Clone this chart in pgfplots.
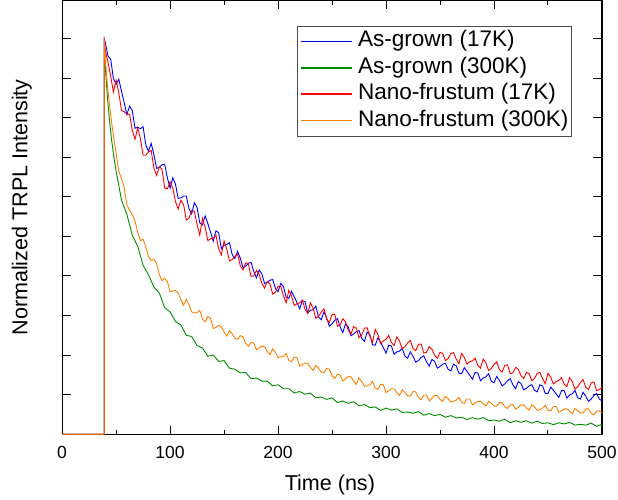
\documentclass[border=0pt]{standalone}
\usepackage{fontspec}
\setmainfont{Liberation Sans}
\usepackage{pgfplots}
\pgfplotsset{compat=1.18}
\definecolor{lineblue}{RGB}{0,0,255}
\definecolor{linegreen}{RGB}{0,140,0}
\definecolor{linered}{RGB}{255,0,0}
\definecolor{lineorange}{RGB}{255,128,0}
\begin{document}
\begin{tikzpicture}
\begin{axis}[
  scale only axis,
  width=539bp, height=433bp,
  xmin=0, xmax=500, ymin=0, ymax=1.096,
  axis line style={line width=1.1bp},
  tick align=inside,
  tick style={black, line width=1bp},
  major tick length=8.5bp, minor tick length=4.5bp,
  xtick={0,100,200,300,400,500},
  minor x tick num=1,
  ytick={0,0.1,0.2,0.3,0.4,0.5,0.6,0.7,0.8,0.9,1.0},
  yticklabels={},
  /pgf/number format/assume math mode=true,
  ticklabel style={font=\fontsize{17.5bp}{20bp}\selectfont},
  xticklabel style={anchor=base, yshift=-24bp},
  xlabel={Time (ns)},
  ylabel={Normalized TRPL Intensity},
  label style={font=\fontsize{21.5bp}{24bp}\selectfont},
  xlabel style={at={(rel axis cs:0.496,0)}, anchor=base, yshift=-56bp},
  ylabel style={at={(rel axis cs:-0.0556,0.523)}, anchor=south, inner sep=0pt},
  legend cell align=left,
  legend style={at={(rel axis cs:1,1)}, anchor=north east, xshift=-30bp, yshift=-25bp,
    draw=black!70, line width=0.8bp, inner xsep=3bp, inner ysep=5bp,
    font=\fontsize{22.5bp}{26bp}\selectfont, row sep=5.3bp, column sep=5bp,
    nodes={inner sep=0pt, text height=16bp, text depth=5bp}},
  every axis plot/.append style={line width=0.9bp},
]
\addlegendimage{legend image code/.code={\draw[lineblue, line width=1.6bp] (0bp,0bp) -- (51bp,0bp);}}
\addlegendentry{As-grown (17K)}
\addlegendimage{legend image code/.code={\draw[linegreen, line width=1.6bp] (0bp,0bp) -- (51bp,0bp);}}
\addlegendentry{As-grown (300K)}
\addlegendimage{legend image code/.code={\draw[linered, line width=1.6bp] (0bp,0bp) -- (51bp,0bp);}}
\addlegendentry{Nano-frustum (17K)}
\addlegendimage{legend image code/.code={\draw[lineorange, line width=1.6bp] (0bp,0bp) -- (51bp,0bp);}}
\addlegendentry{Nano-frustum (300K)}
\addplot[draw=lineblue, forget plot] coordinates {
(0,0) (39,0) (39,1.0) (40,0.99) (42.5,0.955) (45,0.948) (47.5,0.899) (50,0.884) (52.5,0.897) (55,0.867) (57.5,0.838) (60,0.808) (62.5,0.829) (65,0.818) (67.5,0.773) (70,0.776) (72.5,0.772) (75,0.777) (77.5,0.731) (80,0.715) (82.5,0.735) (85,0.707) (87.5,0.672) (90,0.674) (92.5,0.681) (95,0.682) (97.5,0.648) (100,0.622) (102.5,0.648) (105,0.632) (107.5,0.596) (110,0.597) (112.5,0.602) (115,0.602) (117.5,0.570) (120,0.557) (122.5,0.585) (125,0.573) (127.5,0.534) (130,0.529) (132.5,0.552) (135,0.532) (137.5,0.511) (140,0.488) (142.5,0.514) (145,0.509) (147.5,0.469) (150,0.478) (152.5,0.479)
(155,0.484) (157.5,0.454) (160,0.444) (162.5,0.462) (165,0.445) (167.5,0.421) (170,0.425) (172.5,0.432) (175,0.434) (177.5,0.411) (180,0.395) (182.5,0.415) (185,0.405) (187.5,0.381) (190,0.384) (192.5,0.389) (195,0.391) (197.5,0.369) (200,0.360) (202.5,0.381) (205,0.373) (207.5,0.346) (210,0.343) (212.5,0.361) (215,0.347) (217.5,0.333) (220,0.317) (222.5,0.337) (225,0.335) (227.5,0.306) (230,0.313) (232.5,0.315) (235,0.324) (237.5,0.296) (240,0.289) (242.5,0.309) (245,0.294) (247.5,0.273) (250,0.279) (252.5,0.288) (255,0.292) (257.5,0.271) (260,0.257) (262.5,0.279) (265,0.271) (267.5,0.249) (270,0.253) (272.5,0.259) (275,0.262) (277.5,0.242) (280,0.235) (282.5,0.258) (285,0.252) (287.5,0.226) (290,0.225) (292.5,0.244) (295,0.232) (297.5,0.219) (300,0.205)
(302.5,0.225) (305,0.223) (307.5,0.202) (310,0.208) (312.5,0.210) (315,0.217) (317.5,0.197) (320,0.192) (322.5,0.208) (325,0.197) (327.5,0.182) (330,0.186) (332.5,0.194) (335,0.198) (337.5,0.183) (340,0.172) (342.5,0.189) (345,0.184) (347.5,0.167) (350,0.171) (352.5,0.177) (355,0.179) (357.5,0.164) (360,0.160) (362.5,0.177) (365,0.173) (367.5,0.154) (370,0.153) (372.5,0.168) (375,0.159) (377.5,0.149) (380,0.139) (382.5,0.156) (385,0.155) (387.5,0.135) (390,0.142) (392.5,0.145) (395,0.153) (397.5,0.134) (400,0.130) (402.5,0.146) (405,0.136) (407.5,0.122) (410,0.127) (412.5,0.135) (415,0.140) (417.5,0.125) (420,0.115) (422.5,0.133) (425,0.128) (427.5,0.112) (430,0.116) (432.5,0.122) (435,0.125) (437.5,0.111) (440,0.107) (442.5,0.125) (445,0.122) (447.5,0.103) (450,0.103) (452.5,0.119) (455,0.111) (457.5,0.102) (460,0.093) (462.5,0.110) (465,0.110) (467.5,0.091) (470,0.099) (472.5,0.102) (475,0.111) (477.5,0.092) (480,0.089) (482.5,0.106) (485,0.096) (487.5,0.083) (490,0.089) (492.5,0.098) (495,0.103) (497.5,0.089) (500,0.084)
};
\addplot[draw=linegreen, forget plot] coordinates {
(0,0) (39,0) (39,1.0) (40,0.93) (42,0.85) (44,0.79) (46,0.74) (48,0.70) (50,0.665) (55,0.592) (60,0.555) (65,0.503) (70,0.475) (75,0.427) (80,0.403) (85,0.372) (90,0.357) (95,0.320) (100,0.309) (105,0.285) (110,0.276) (115,0.250) (120,0.247) (125,0.224) (130,0.218) (135,0.197) (140,0.200) (145,0.184) (150,0.186)
(155,0.167) (160,0.164) (165,0.155) (170,0.156) (175,0.140) (180,0.142) (185,0.134) (190,0.134) (195,0.122) (200,0.125) (205,0.115) (210,0.115) (215,0.104) (220,0.108) (225,0.101) (230,0.104) (235,0.092) (240,0.094) (245,0.088) (250,0.092) (255,0.080) (260,0.084) (265,0.078) (270,0.082) (275,0.072) (280,0.075) (285,0.067) (290,0.069) (295,0.060) (300,0.066)
(305,0.061) (310,0.064) (315,0.055) (320,0.056) (325,0.053) (330,0.057) (335,0.048) (340,0.052) (345,0.047) (350,0.050) (355,0.043) (360,0.047) (365,0.041) (370,0.043) (375,0.037) (380,0.042) (385,0.038) (390,0.042) (395,0.034) (400,0.036) (405,0.033) (410,0.038) (415,0.029) (420,0.034) (425,0.030) (430,0.034) (435,0.028) (440,0.033) (445,0.027) (450,0.029) (455,0.024) (460,0.029) (465,0.026) (470,0.030) (475,0.023) (480,0.025) (485,0.023) (490,0.028) (495,0.020) (500,0.025)
};
\addplot[draw=linered, forget plot] coordinates {
(0,0) (39,0) (39,1.0) (40,0.97) (42.5,0.94) (45,0.905) (47.5,0.865) (50,0.895) (52.5,0.863) (55,0.818) (57.5,0.815) (60,0.808) (62.5,0.809) (65,0.768) (67.5,0.745) (70,0.774) (72.5,0.747) (75,0.705) (77.5,0.705) (80,0.713) (82.5,0.717) (85,0.673) (87.5,0.654) (90,0.676) (92.5,0.670) (95,0.622) (97.5,0.620) (100,0.638) (102.5,0.622) (105,0.588) (107.5,0.569) (110,0.591) (112.5,0.580) (115,0.541) (117.5,0.546) (120,0.565) (122.5,0.563) (125,0.530) (127.5,0.503) (130,0.545) (132.5,0.523) (135,0.489) (137.5,0.494) (140,0.495) (142.5,0.503) (145,0.469) (147.5,0.453) (150,0.488) (152.5,0.468)
(155,0.438) (157.5,0.441) (160,0.449) (162.5,0.455) (165,0.426) (167.5,0.415) (170,0.433) (172.5,0.431) (175,0.399) (177.5,0.400) (180,0.414) (182.5,0.404) (185,0.381) (187.5,0.369) (190,0.386) (192.5,0.380) (195,0.354) (197.5,0.359) (200,0.374) (202.5,0.373) (205,0.350) (207.5,0.332) (210,0.364) (212.5,0.349) (215,0.325) (217.5,0.330) (220,0.332) (222.5,0.339) (225,0.316) (227.5,0.305) (230,0.332) (232.5,0.318) (235,0.293) (237.5,0.298) (240,0.309) (242.5,0.317) (245,0.291) (247.5,0.282) (250,0.303) (252.5,0.303) (255,0.273) (257.5,0.276) (260,0.292) (262.5,0.284) (265,0.263) (267.5,0.253) (270,0.272) (272.5,0.268) (275,0.244) (277.5,0.251) (280,0.268) (282.5,0.269) (285,0.248) (287.5,0.232) (290,0.265) (292.5,0.252) (295,0.229) (297.5,0.236) (300,0.240)
(302.5,0.250) (305,0.232) (307.5,0.224) (310,0.246) (312.5,0.235) (315,0.216) (317.5,0.221) (320,0.231) (322.5,0.237) (325,0.217) (327.5,0.211) (330,0.227) (332.5,0.228) (335,0.205) (337.5,0.207) (340,0.221) (342.5,0.215) (345,0.199) (347.5,0.192) (350,0.207) (352.5,0.204) (355,0.186) (357.5,0.191) (360,0.204) (362.5,0.206) (365,0.190) (367.5,0.178) (370,0.204) (372.5,0.194) (375,0.177) (377.5,0.183) (380,0.185) (382.5,0.192) (385,0.174) (387.5,0.167) (390,0.190) (392.5,0.180) (395,0.161) (397.5,0.166) (400,0.176) (402.5,0.183) (405,0.163) (407.5,0.157) (410,0.174) (412.5,0.175) (415,0.153) (417.5,0.155) (420,0.169) (422.5,0.164) (425,0.148) (427.5,0.141) (430,0.156) (432.5,0.153) (435,0.135) (437.5,0.141) (440,0.154) (442.5,0.156) (445,0.140) (447.5,0.128) (450,0.154) (452.5,0.144) (455,0.127) (457.5,0.133) (460,0.136) (462.5,0.143) (465,0.126) (467.5,0.120) (470,0.143) (472.5,0.133) (475,0.114) (477.5,0.120) (480,0.131) (482.5,0.138) (485,0.118) (487.5,0.113) (490,0.130) (492.5,0.132) (495,0.110) (497.5,0.113) (500,0.118)
};
\addplot[draw=lineorange, forget plot] coordinates {
(0,0) (39,0) (39,1.0) (40,0.95) (42,0.88) (44,0.83) (46,0.785) (48,0.745) (50,0.71) (52.5,0.665) (55,0.646) (57.5,0.623) (60,0.579) (62.5,0.566) (65,0.555) (67.5,0.539) (70,0.511) (72.5,0.489) (75,0.493) (77.5,0.473) (80,0.450) (82.5,0.439) (85,0.442) (87.5,0.431) (90,0.404) (92.5,0.388) (95,0.394) (97.5,0.386) (100,0.360) (102.5,0.362) (105,0.363) (107.5,0.357) (110,0.340) (112.5,0.326) (115,0.341) (117.5,0.327) (120,0.309) (122.5,0.307) (125,0.307) (127.5,0.313) (130,0.291) (132.5,0.284) (135,0.298) (137.5,0.293) (140,0.267) (142.5,0.270) (145,0.275) (147.5,0.272) (150,0.258) (152.5,0.248)
(155,0.262) (157.5,0.254) (160,0.242) (162.5,0.240) (165,0.249) (167.5,0.246) (170,0.230) (172.5,0.222) (175,0.232) (177.5,0.230) (180,0.213) (182.5,0.218) (185,0.223) (187.5,0.221) (190,0.209) (192.5,0.201) (195,0.216) (197.5,0.207) (200,0.194) (202.5,0.195) (205,0.197) (207.5,0.204) (210,0.187) (212.5,0.183) (215,0.195) (217.5,0.193) (220,0.172) (222.5,0.176) (225,0.180) (227.5,0.179) (230,0.169) (232.5,0.161) (235,0.174) (237.5,0.167) (240,0.157) (242.5,0.156) (245,0.166) (247.5,0.164) (250,0.148) (252.5,0.141) (255,0.151) (257.5,0.150) (260,0.134) (262.5,0.140) (265,0.146) (267.5,0.145) (270,0.134) (272.5,0.126) (275,0.142) (277.5,0.133) (280,0.121) (282.5,0.122) (285,0.125) (287.5,0.133) (290,0.117) (292.5,0.113) (295,0.126) (297.5,0.125) (300,0.105)
(302.5,0.110) (305,0.115) (307.5,0.115) (310,0.105) (312.5,0.098) (315,0.112) (317.5,0.106) (320,0.097) (322.5,0.097) (325,0.108) (327.5,0.107) (330,0.093) (332.5,0.087) (335,0.099) (337.5,0.099) (340,0.084) (342.5,0.091) (345,0.098) (347.5,0.098) (350,0.088) (352.5,0.083) (355,0.096) (357.5,0.090) (360,0.081) (362.5,0.083) (365,0.086) (367.5,0.093) (370,0.081) (372.5,0.078) (375,0.089) (377.5,0.089) (380,0.074) (382.5,0.078) (385,0.083) (387.5,0.083) (390,0.077) (392.5,0.071) (395,0.083) (397.5,0.078) (400,0.071) (402.5,0.071) (405,0.080) (407.5,0.080) (410,0.069) (412.5,0.065) (415,0.074) (417.5,0.075) (420,0.063) (422.5,0.068) (425,0.074) (427.5,0.074) (430,0.066) (432.5,0.061) (435,0.075) (437.5,0.069) (440,0.060) (442.5,0.062) (445,0.066) (447.5,0.073) (450,0.061) (452.5,0.059) (455,0.070) (457.5,0.070) (460,0.055) (462.5,0.059) (465,0.064) (467.5,0.064) (470,0.058) (472.5,0.052) (475,0.065) (477.5,0.060) (480,0.053) (482.5,0.054) (485,0.064) (487.5,0.064) (490,0.053) (492.5,0.049) (495,0.058) (497.5,0.059) (500,0.054)
};
\end{axis}
\pgfresetboundingbox
\useasboundingbox ([shift={(-62bp,-65bp)}]current axis.south west) rectangle ([shift={(16bp,0.5bp)}]current axis.north east);
\end{tikzpicture}
\end{document}
